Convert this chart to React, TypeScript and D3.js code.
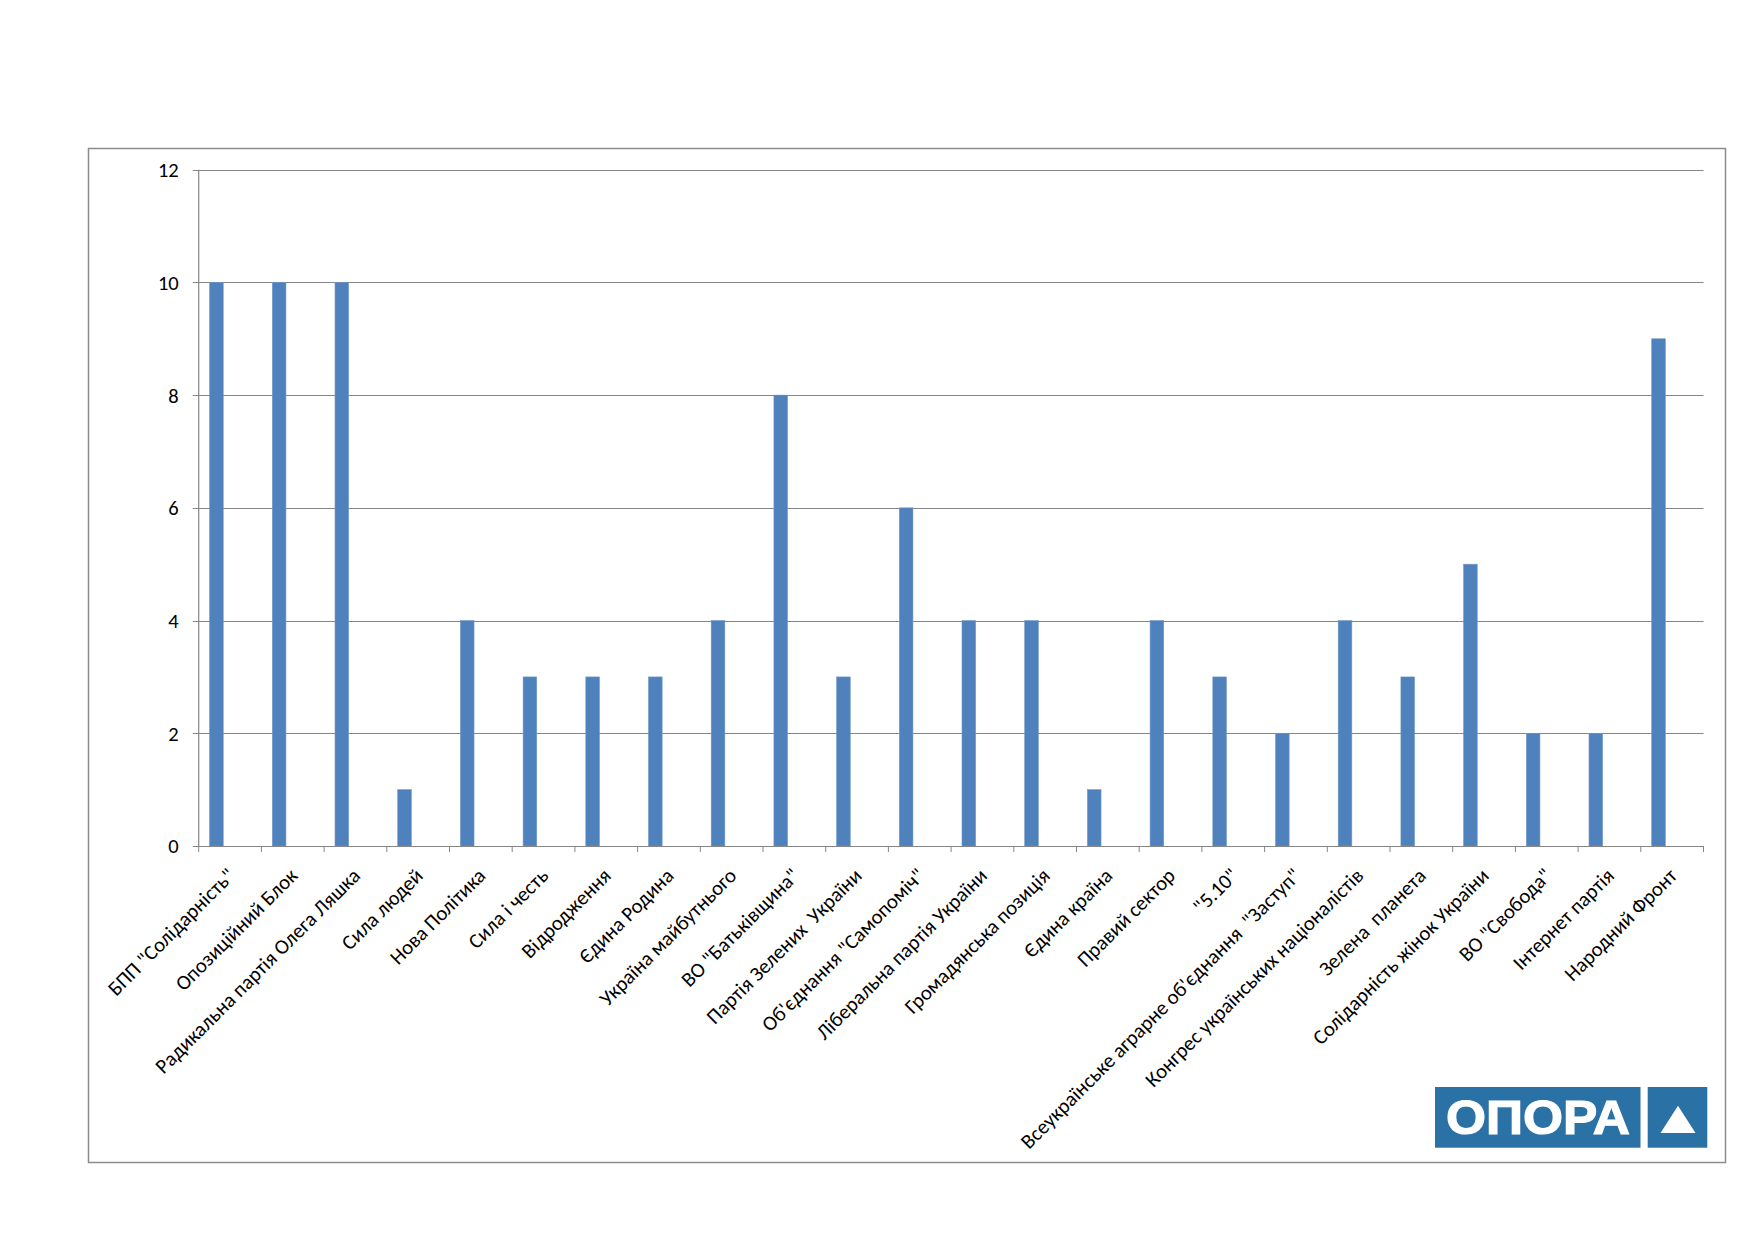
import React from "react";
import * as d3 from "d3";

const categories: string[] = [
  'БПП "Солідарність"',
  "Опозиційний Блок",
  "Радикальна партія Олега Ляшка",
  "Сила людей",
  "Нова Політика",
  "Сила і честь",
  "Відродження",
  "Єдина Родина",
  "Україна майбутнього",
  'ВО "Батьківщина"',
  "Партія Зелених  України",
  'Об\'єднання "Самопоміч"',
  "Ліберальна партія України",
  "Громадянська позиція",
  "Єдина країна",
  "Правий сектор",
  '"5.10"',
  'Всеукраїнське аграрне об\'єднання  "Заступ"',
  "Конгрес українських націоналістів",
  "Зелена  планета",
  "Солідарність жінок України",
  'ВО "Свобода"',
  "Інтернет партія",
  "Народний Фронт",
];

const values: number[] = [10, 10, 10, 1, 4, 3, 3, 3, 4, 8, 3, 6, 4, 4, 1, 4, 3, 2, 4, 3, 5, 2, 2, 9];

const yTicks: number[] = [0, 2, 4, 6, 8, 10, 12];

const logoText = "ОПОРА";

const W = 1755;
const H = 1241;
const plotLeft = 198.7;
const plotRight = 1703.5;
const plotTop = 169.7;
const plotBottom = 846;
const FONT = "Carlito, Lato, 'Open Sans', sans-serif";
const GRID = "#868686";

export default function App() {
  const x = d3.scaleBand<string>().domain(categories).range([plotLeft, plotRight]).padding(0);
  const y = d3.scaleLinear().domain([0, 12]).range([plotBottom, plotTop]);
  const bw = x.bandwidth();
  // three-slot cluster, first slot used
  const sub = d3.scaleBand<string>().domain(["s1", "s2", "s3"]).range([0, bw]).paddingOuter(0.8).paddingInner(0);

  return (
    <svg
      width={W}
      height={H}
      viewBox={`0 0 ${W} ${H}`}
      style={{ position: "absolute", left: 0, top: 0, display: "block", background: "#fff" }}
    >
      <rect x={0} y={0} width={W} height={H} fill="#fff" />
      {/* chart area frame */}
      <rect x={88.5} y={148.5} width={1637} height={1014} fill="none" stroke="#8c8c8c" strokeWidth={1.5} />

      {/* gridlines */}
      {yTicks.map((t) => (
        <line
          key={"g" + t}
          x1={plotLeft - 6}
          x2={plotRight}
          y1={Math.round(y(t)) + 0.5}
          y2={Math.round(y(t)) + 0.5}
          stroke={GRID}
          strokeWidth={1}
        />
      ))}
      {/* y axis */}
      <line x1={plotLeft} x2={plotLeft} y1={plotTop} y2={plotBottom} stroke={GRID} strokeWidth={1.2} />
      {yTicks.map((t) => (
        <text
          key={"yt" + t}
          x={plotLeft - 20}
          y={y(t)}
          dy="0.36em"
          textAnchor="end"
          fontFamily={FONT}
          fontSize={20.5}
          fill="#000"
        >
          {t}
        </text>
      ))}

      {/* bars */}
      {categories.map((c, i) => (
        <rect
          key={"b" + i}
          x={(x(c) as number) + (sub("s1") as number)}
          y={y(values[i])}
          width={sub.bandwidth()}
          height={y(0) - y(values[i])}
          fill="#4f81bd"
          stroke="#6f98c9"
          strokeWidth={0.6}
        />
      ))}

      {/* x axis */}
      <line x1={plotLeft} x2={plotRight} y1={plotBottom + 0.5} y2={plotBottom + 0.5} stroke={GRID} strokeWidth={1.2} />
      {categories.map((c, i) => (
        <line
          key={"xt" + i}
          x1={x(c) as number}
          x2={x(c) as number}
          y1={plotBottom}
          y2={plotBottom + 6}
          stroke={GRID}
          strokeWidth={1}
        />
      ))}
      <line x1={plotRight} x2={plotRight} y1={plotBottom} y2={plotBottom + 6} stroke={GRID} strokeWidth={1} />

      {/* category labels */}
      {categories.map((c, i) => {
        const cx = (x(c) as number) + bw / 2;
        return (
          <text
            key={"xl" + i}
            transform={`translate(${cx + 6},${plotBottom + 31}) rotate(-45)`}
            textAnchor="end"
            fontFamily={FONT}
            fontSize={20.7}
            fill="#000"
            style={{ whiteSpace: "pre" }}
          >
            {c}
          </text>
        );
      })}

      {/* logo */}
      <rect x={1435} y={1087} width={205.5} height={60.7} fill="#2a71a6" />
      <rect x={1647.7} y={1087} width={59.6} height={60.7} fill="#2a71a6" />
      <text
        x={1446}
        y={1134}
        fontFamily="'Liberation Sans', Arial, sans-serif"
        fontWeight="bold"
        fontSize={48}
        fill="#fff"
        stroke="#fff"
        strokeWidth={1.2}
        textLength={184}
        lengthAdjust="spacingAndGlyphs"
      >
        {logoText}
      </text>
      <path d="M1678,1105.7 L1695.5,1133 L1660.5,1133 Z" fill="#fff" />
    </svg>
  );
}
